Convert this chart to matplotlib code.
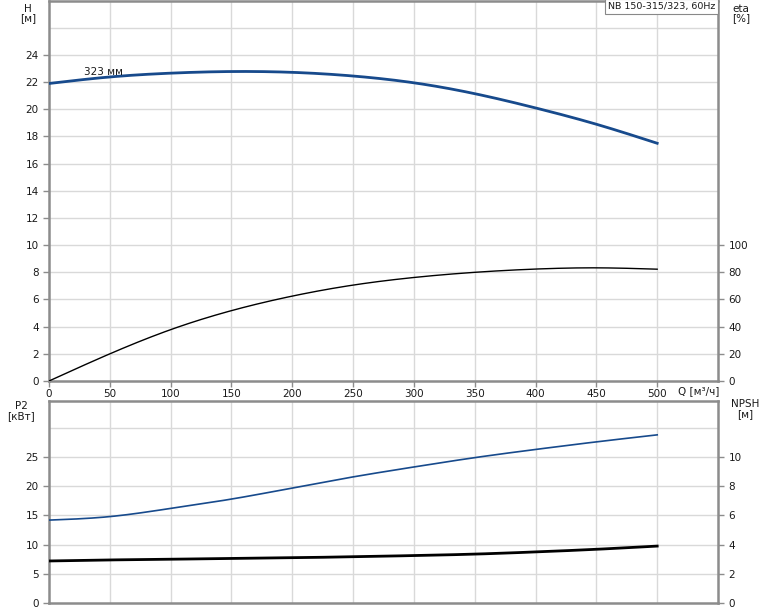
import numpy as np
import matplotlib
matplotlib.use("Agg")
import matplotlib.pyplot as plt

# Data
q = [0, 50, 100, 150, 200, 250, 300, 350, 400, 450, 500]
head = [21.9, 22.38, 22.66, 22.78, 22.72, 22.45, 21.95, 21.15, 20.1, 18.9, 17.5]
eta = [0, 20, 37.8, 51.8, 62.5, 70.6, 76.2, 80.0, 82.4, 83.3, 82.3]
p2 = [14.2, 14.8, 16.2, 17.8, 19.7, 21.6, 23.3, 24.9, 26.3, 27.6, 28.8]
npsh = [2.88, 2.95, 3.0, 3.05, 3.1, 3.17, 3.25, 3.35, 3.5, 3.68, 3.9]

q_ticks = [0, 50, 100, 150, 200, 250, 300, 350, 400, 450, 500]
h_ticks = [0, 2, 4, 6, 8, 10, 12, 14, 16, 18, 20, 22, 24]
eta_ticks = [0, 20, 40, 60, 80, 100]
p2_ticks = [0, 5, 10, 15, 20, 25]
npsh_ticks = [0, 2, 4, 6, 8, 10]

title_text = "NB 150-315/323, 60Hz"
curve_label = "323 мм"

W, H = 774, 611
fig = plt.figure(figsize=(W / 100, H / 100), dpi=100)
plt.rcParams['font.family'] = ['DejaVu Sans']

L = 49 / W
R = 718 / W
spine_col = '#8c8c8c'
grid_col = '#d9d9d9'
txt_col = '#1a1a1a'
blue = '#174a8c'
fs = 7.5

def smooth(x, y, n=400):
    """Natural cubic spline through the read points."""
    x = np.asarray(x, float); y = np.asarray(y, float)
    m = len(x)
    h = np.diff(x)
    A = np.zeros((m, m)); b = np.zeros(m)
    A[0, 0] = 1; A[-1, -1] = 1
    for i in range(1, m - 1):
        A[i, i - 1] = h[i - 1]
        A[i, i] = 2 * (h[i - 1] + h[i])
        A[i, i + 1] = h[i]
        b[i] = 6 * ((y[i + 1] - y[i]) / h[i] - (y[i] - y[i - 1]) / h[i - 1])
    M = np.linalg.solve(A, b)
    xs = np.linspace(x.min(), x.max(), n)
    idx = np.clip(np.searchsorted(x, xs, side='right') - 1, 0, m - 2)
    x0 = x[idx]; x1 = x[idx + 1]; hh = x1 - x0
    t0 = x1 - xs; t1 = xs - x0
    ys = (M[idx] * t0 ** 3 / (6 * hh) + M[idx + 1] * t1 ** 3 / (6 * hh)
          + (y[idx] / hh - M[idx] * hh / 6) * t0 + (y[idx + 1] / hh - M[idx + 1] * hh / 6) * t1)
    return xs, ys

def style(ax, ymax, ygrid):
    ax.set_xlim(0, 550)
    ax.set_ylim(0, ymax)
    for s in ['left', 'bottom', 'top', 'right']:
        ax.spines[s].set_color(spine_col)
        ax.spines[s].set_linewidth(1.8)
    for g in q_ticks[1:]:
        ax.axvline(g, color=grid_col, lw=1, zorder=0)
    for g in ygrid:
        ax.axhline(g, color=grid_col, lw=1, zorder=0)
    ax.tick_params(axis='both', colors=spine_col, labelcolor=txt_col, labelsize=fs, length=4, width=1)

# Top axes
ax1 = fig.add_axes([L, 1 - 381 / H, R - L, 381 / H - 0.001])
style(ax1, 28, list(range(2, 28, 2)))
ax1.set_xticks(q_ticks)
ax1.set_yticks(h_ticks)
ax1.tick_params(axis='x', pad=2)
xs, ys = smooth(q, head)
ax1.plot(xs, ys, color=blue, lw=2, zorder=3)
ax1.text(29, 22.55, curve_label, fontsize=fs, color=txt_col, zorder=4)
ax1b = ax1.twinx()
ax1b.set_ylim(0, 280)
ax1b.set_yticks(eta_ticks)
ax1b.tick_params(axis='y', colors=spine_col, labelcolor=txt_col, labelsize=fs, length=4, width=1)
for s in ax1b.spines.values():
    s.set_visible(False)
xs, ys = smooth(q, eta)
ax1b.plot(xs, ys, color='black', lw=1, zorder=3)
ax1.text(0.996, 0.996, title_text, transform=ax1.transAxes, ha='right', va='top',
         fontsize=6.8, color=txt_col, zorder=5,
         bbox=dict(boxstyle='square,pad=0.3', fc='white', ec='#888888', lw=0.8))

fig.text(28 / W, 1 - 4 / H, "H", fontsize=fs, color=txt_col, ha='center', va='top')
fig.text(28 / W, 1 - 13 / H, "[м]", fontsize=fs, color=txt_col, ha='center', va='top')
fig.text(741 / W, 1 - 4 / H, "eta", fontsize=fs, color=txt_col, ha='center', va='top')
fig.text(741 / W, 1 - 13 / H, "[%]", fontsize=fs, color=txt_col, ha='center', va='top')
fig.text(678 / W, 1 - 391 / H, "Q [м³/ч]", fontsize=fs, color=txt_col, ha='left', va='center')

# Bottom axes
ax2 = fig.add_axes([L, 1 - 603 / H, R - L, (603 - 401) / H])
style(ax2, 34.6, [5, 10, 15, 20, 25, 30])
ax2.set_xticks(q_ticks)
ax2.tick_params(axis='x', length=0, labelbottom=False)
ax2.set_yticks(p2_ticks)
xs, ys = smooth(q, p2)
ax2.plot(xs, ys, color=blue, lw=1.2, zorder=3)
ax2b = ax2.twinx()
ax2b.set_ylim(0, 34.6 * 0.4)
ax2b.set_yticks(npsh_ticks)
ax2b.tick_params(axis='y', colors=spine_col, labelcolor=txt_col, labelsize=fs, length=4, width=1)
for s in ax2b.spines.values():
    s.set_visible(False)
xs, ys = smooth(q, npsh)
ax2b.plot(xs, ys, color='black', lw=2, zorder=3)

fig.text(21 / W, 1 - 401 / H, "P2", fontsize=fs, color=txt_col, ha='center', va='top')
fig.text(21 / W, 1 - 411 / H, "[кВт]", fontsize=fs, color=txt_col, ha='center', va='top')
fig.text(745 / W, 1 - 399 / H, "NPSH", fontsize=fs, color=txt_col, ha='center', va='top')
fig.text(745 / W, 1 - 409 / H, "[м]", fontsize=fs, color=txt_col, ha='center', va='top')

fig.savefig("out.png", dpi=100)
